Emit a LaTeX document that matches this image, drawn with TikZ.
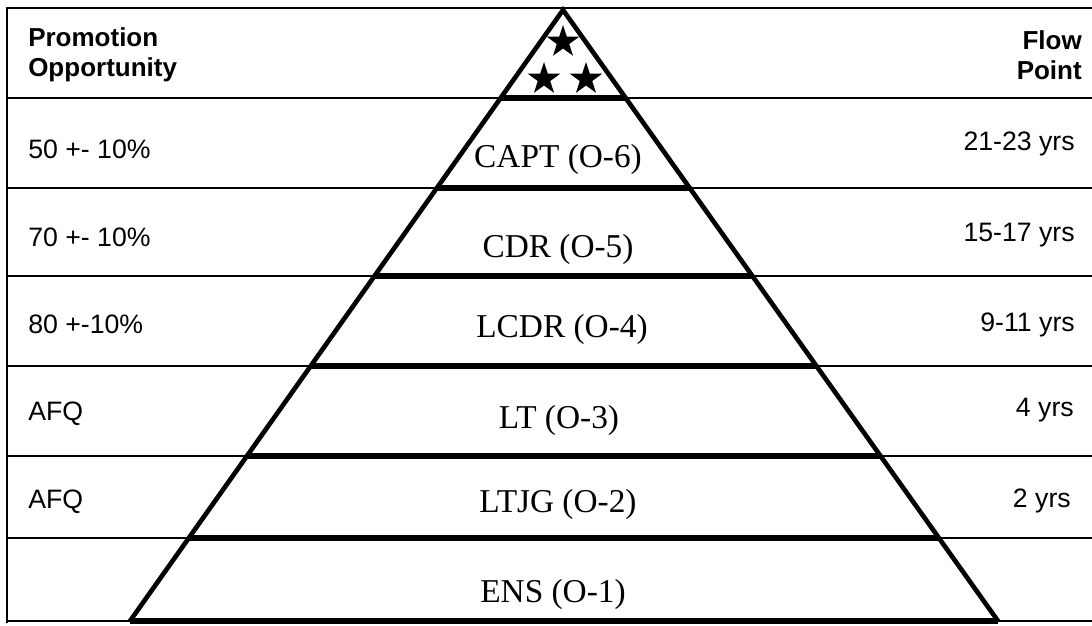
\documentclass[tikz,border=0pt]{standalone}
\usepackage{fontspec}
\setmainfont{Liberation Serif}
\setsansfont{Liberation Sans}
\usepackage{tikz}
\usetikzlibrary{calc,shapes.geometric}
\tikzstyle{grid line} = [draw, black, line width=1.2pt]
\tikzstyle{tier line} = [draw, black, line width=4.4pt]
\tikzstyle{slope} = [draw, black, line width=3.5pt]
\tikzstyle{rank} = [inner sep=0pt, anchor=base, font=\fontsize{25}{30}\selectfont]
\tikzstyle{opportunity} = [inner sep=0pt, anchor=base west,
font=\sffamily\fontsize{20}{24}\selectfont]
\tikzstyle{flow point} = [inner sep=0pt, anchor=base east,
font=\sffamily\fontsize{20}{24}\selectfont]
\tikzstyle{header} = [inner sep=0pt, font=\sffamily\bfseries\fontsize{19.5}{23}\selectfont]
\tikzstyle{rank star} = [star, star points=5, star point ratio=2.6, fill=black,
inner sep=0pt, minimum size=25.5pt]

\begin{document}
\begin{tikzpicture}[x=0.75pt, y=-0.75pt]
	\useasboundingbox (0,0) rectangle (1092,625);
	\coordinate (apex) at (563,10);
	\coordinate (base left) at (130,621);
	\coordinate (base right) at (998,621);

	% table frame and rows
	\draw[grid line] (1092,8) -- (7,8) -- (7,623);
	\foreach \y in {98,188,276,366,456,538,621} {
		\pgfmathsetmacro{\t}{(\y-10)/611}
		\draw[grid line] (7,\y) -- (1092,\y);
		\draw[tier line] ($(apex)!\t!(base left)$) -- ($(apex)!\t!(base right)$);
	}
	\draw[slope] (base left) -- (apex) -- (base right);

	\node[rank star] (star top) at (563,42) {};
	\node[rank star] (star left) at (544,79) {};
	\node[rank star] (star right) at (586,79) {};

	\node[header, anchor=north west, align=left] (promotion) at (28,27) {Promotion\\Opportunity};
	\node[header, anchor=north east, align=right] (flow) at (1082,30) {Flow\\Point};

	\node[rank] (capt) at (558,167) {CAPT (O-6)};
	\node[rank] (cdr) at (558,257) {CDR (O-5)};
	\node[rank] (lcdr) at (562,337) {LCDR (O-4)};
	\node[rank] (lt) at (559,428) {LT (O-3)};
	\node[rank] (ltjg) at (558,512) {LTJG (O-2)};
	\node[rank] (ens) at (553,602) {ENS (O-1)};

	\node[opportunity] (opp capt) at (28,158) {50 +- 10\%};
	\node[opportunity] (opp cdr) at (28,246) {70 +- 10\%};
	\node[opportunity] (opp lcdr) at (28,333) {80 +-10\%};
	\node[opportunity] (opp lt) at (28,420) {AFQ};
	\node[opportunity] (opp ltjg) at (28,508) {AFQ};

	\node[flow point] (flow capt) at (1075,150) {21-23 yrs};
	\node[flow point] (flow cdr) at (1075,241) {15-17 yrs};
	\node[flow point] (flow lcdr) at (1075,331) {9-11 yrs};
	\node[flow point] (flow lt) at (1074,416) {4 yrs};
	\node[flow point] (flow ltjg) at (1071,507) {2 yrs};
\end{tikzpicture}
\end{document}
